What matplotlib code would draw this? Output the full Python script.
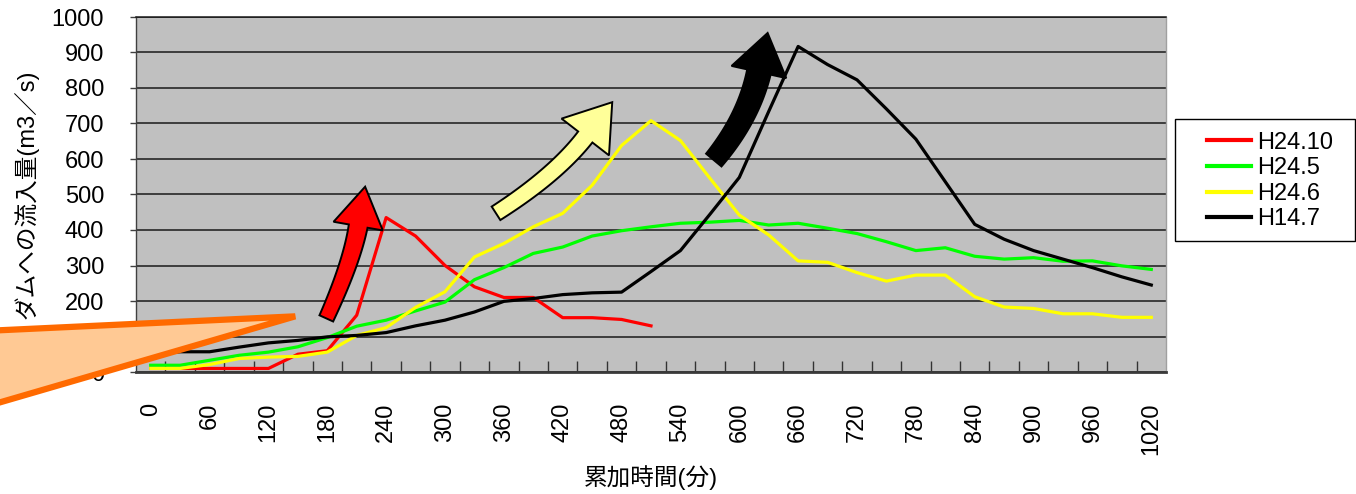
import numpy as np
import matplotlib
matplotlib.use("Agg")
import matplotlib.pyplot as plt
from matplotlib.patches import Polygon, Rectangle
from matplotlib.lines import Line2D

# elapsed time (minutes), one sample every 30 min
minutes = [0, 30, 60, 90, 120, 150, 180, 210, 240, 270, 300, 330, 360, 390,
           420, 450, 480, 510, 540, 570, 600, 630, 660, 690, 720, 750, 780,
           810, 840, 870, 900, 930, 960, 990, 1020]

# inflow to the dam (m3/s)
h24_10 = [10, 10, 10, 10, 10, 50, 60, 160, 435, 383, 300, 240, 210, 210,
          153, 153, 148, 130]
h24_5 = [19, 19, 33, 47, 56, 71, 97, 129, 146, 172, 197, 260, 294, 334, 352,
         383, 398, 409, 419, 422, 427, 414, 419, 405, 390, 367, 342, 350, 326,
         318, 322, 312, 313, 299, 289]
h24_6 = [10, 10, 21, 38, 42, 44, 56, 103, 125, 182, 226, 324, 362, 409, 447,
         526, 638, 708, 652, 546, 442, 386, 313, 309, 280, 256, 273, 273, 212,
         183, 179, 164, 164, 154, 154]
h14_7 = [50, 57, 57, 70, 82, 89, 99, 103, 111, 130, 146, 169, 199, 207, 218,
         223, 225, 283, 342, 444, 548, 734, 917, 866, 823, 741, 656, 536, 416,
         374, 342, 318, 294, 268, 245]

series_labels = ["H24.10", "H24.5", "H24.6", "H14.7"]
series_values = [h24_10, h24_5, h24_6, h14_7]
series_colors = ["#ff0000", "#00ff00", "#ffff00", "#000000"]

y_ticks = [0, 100, 200, 300, 400, 500, 600, 700, 800, 900, 1000]
x_ticks = [0, 60, 120, 180, 240, 300, 360, 420, 480, 540, 600, 660, 720, 780,
           840, 900, 960, 1020]

plt.rcParams['font.family'] = ['Liberation Sans', 'Noto Sans CJK JP', 'DejaVu Sans']

W, H = 1356, 494
fig = plt.figure(figsize=(W / 100, H / 100), dpi=100)
fig.patch.set_facecolor('white')
ax = fig.add_axes([136 / W, 1 - 372 / H, (1166 - 136) / W, (372 - 17) / H])
ax.set_facecolor('#c0c0c0')
ax.set_xlim(-15, 1035)
ax.set_ylim(0, 1000)

# value axis
ax.set_yticks(y_ticks)
ax.set_yticklabels([str(v) for v in y_ticks])
ax.yaxis.grid(True, color='#1a1a1a', lw=1.1)
ax.set_axisbelow(True)
ax.tick_params(axis='y', direction='out', length=4, width=1, color='#404040',
               pad=19, labelsize=17)

# category axis: labels every hour, ticks between categories
ax.set_xticks(x_ticks)
ax.set_xticklabels([str(v) for v in x_ticks], rotation=90)
ax.set_xticks(np.arange(15, 1035, 30), minor=True)
ax.tick_params(axis='x', which='major', length=0, pad=22, labelsize=17)
ax.tick_params(axis='x', which='minor', direction='in', length=8, width=1,
               color='#333333')

ax.spines['left'].set_color('#404040')
ax.spines['left'].set_linewidth(1.0)
ax.spines['bottom'].set_color('#3a3a3a')
ax.spines['bottom'].set_linewidth(2.0)
ax.spines['top'].set_color('#1a1a1a')
ax.spines['top'].set_linewidth(1.1)
ax.spines['right'].set_color('#a0a0a0')
ax.spines['right'].set_linewidth(1.0)

for vals, col, lab in zip(series_values, series_colors, series_labels):
    ax.plot(minutes[:len(vals)], vals, color=col, lw=2.3, label=lab,
            solid_joinstyle='round', zorder=3)

ax.set_ylabel('ダムへの流入量(m3／s)', fontsize=17, va='center')
ax.yaxis.set_label_coords(-0.107, 0.5)
ax.set_xlabel('累加時間(分)', fontsize=17, va='center')
ax.xaxis.set_label_coords(0.5, (372 - 478) / 355)


def curved_arrow(p0, p1, p2, w0, w1, head_w, head_l, face):
    """Block arrow bent along a quadratic curve; widths are in pixels."""
    T = ax.transData
    P = T.transform(np.array([p0, p1, p2], dtype=float))
    t = np.linspace(0, 1, 50)[:, None]
    B = (1 - t) ** 2 * P[0] + 2 * (1 - t) * t * P[1] + t ** 2 * P[2]
    D = 2 * (1 - t) * (P[1] - P[0]) + 2 * t * (P[2] - P[1])
    D /= np.linalg.norm(D, axis=1)[:, None]
    N = np.column_stack([-D[:, 1], D[:, 0]])
    half = (w0 + (w1 - w0) * t) / 2
    left = B + N * half
    right = B - N * half
    tip = P[2] + D[-1] * head_l
    barb_l = P[2] + N[-1] * head_w
    barb_r = P[2] - N[-1] * head_w
    pts = np.vstack([left, barb_l, tip, barb_r, right[::-1]])
    ax.add_patch(Polygon(T.inverted().transform(pts), closed=True, fc=face,
                         ec='black', lw=1.4, joinstyle='miter', zorder=6,
                         clip_on=False))


curved_arrow((179, 151), (205, 309), (211.5, 411), 15, 19, 25, 40, '#ff0000')
curved_arrow((352, 447), (413, 555), (443, 662), 16, 18, 30, 44, '#ffff99')
curved_arrow((574, 597), (609.5, 715), (620, 845), 20, 24, 28, 40, '#000000')

# callout pointer coming in from the left
ax.add_patch(Polygon([(147.3, 156.8), (-235, 107), (-235, -151)], closed=True,
                     fc='#ffc994', ec='#ff6a00', lw=4.5, joinstyle='bevel',
                     zorder=10, clip_on=False))

# legend
fig.add_artist(Rectangle((1175 / W, 1 - 241 / H), 180 / W, 122 / H,
                         transform=fig.transFigure, fc='white', ec='black',
                         lw=1.0, zorder=1))
handles = [Line2D([], [], color=c, lw=3) for c in series_colors]
leg = fig.legend(handles, series_labels, loc='center left',
                 bbox_to_anchor=(1207 / W, 1 - 181 / H),
                 bbox_transform=fig.transFigure, frameon=False, borderpad=0,
                 borderaxespad=0, handlelength=1.86, handletextpad=0.25,
                 labelspacing=0.15, fontsize=17)
leg.set_zorder(5)

fig.savefig('out.png', dpi=100)
